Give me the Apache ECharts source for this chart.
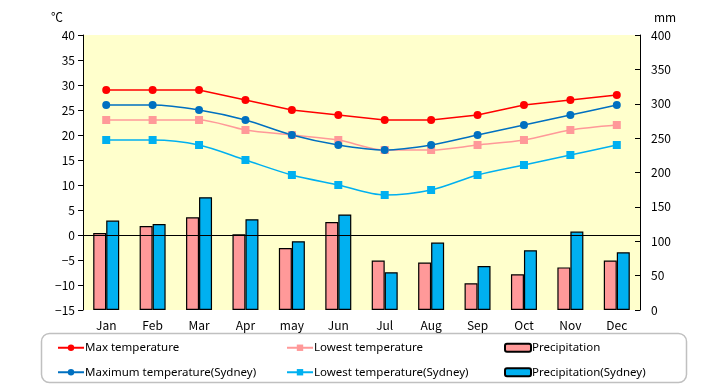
<!DOCTYPE html>
<html><head><meta charset="utf-8">
<script src="https://cdn.jsdelivr.net/npm/echarts@6/dist/echarts.min.js"></script>
<style>html,body{margin:0;padding:0;background:#fff}#c{width:720px;height:385px}</style>
</head><body><div id="c"></div>
<script>
const months = ['Jan','Feb','Mar','Apr','may','Jun','Jul','Aug','Sep','Oct','Nov','Dec'];
const maxTemp = [29,29,29,27,25,24,23,23,24,26,27,28];
const lowTemp = [23,23,23,21,20,19,17,17,18,19,21,22];
const maxTempSyd = [26,26,25,23,20,18,17,18,20,22,24,26];
const lowTempSyd = [19,19,18,15,12,10,8,9,12,14,16,18];
const precip = [112,122,135,110,90,128,72,69,39,52,62,72];
const precipSyd = [130,125,164,132,100,139,55,98,64,87,114,84];
const FONT = '"Noto Sans CJK JP","Noto Sans",sans-serif';
const LFONT = '"Noto Sans","Noto Sans CJK JP",sans-serif';
const chart = echarts.init(document.getElementById('c'));
const lineS = (name, data, color, symbol, size, smooth) => ({
  name, type:'line', data, yAxisIndex:0, smooth, z:5,
  symbol, symbolSize:size, color,
  lineStyle:{color, width:1.5}, itemStyle:{color}
});
const legendCol = (left, data) => ({
  left, top:337, orient:'vertical', itemGap:13, itemWidth:26, itemHeight:8,
  textStyle:{color:'#000', fontSize:11.5, fontFamily:LFONT, padding:[0,0,0,-4]}, data
});
chart.setOption({
  animation:false,
  textStyle:{fontFamily:FONT},
  grid:{left:83, right:80, top:35, bottom:75, show:true, backgroundColor:'#ffffcc', borderWidth:0},
  xAxis:{type:'category', data:months, boundaryGap:true,
    axisLine:{show:false}, axisTick:{show:false},
    axisLabel:{color:'#000', fontSize:12, margin:9, fontFamily:FONT}},
  yAxis:[
    {type:'value', min:-15, max:40, interval:5, name:'℃', nameGap:12,
     nameTextStyle:{color:'#000', fontSize:12, align:'right', padding:[0,20,0,0]},
     axisLine:{show:true, lineStyle:{color:'#000'}},
     axisTick:{show:true, inside:false, length:5, lineStyle:{color:'#000'}},
     splitLine:{show:false},
     axisLabel:{color:'#000', fontSize:12, margin:8, formatter:v=>String(v).replace('-','−')}},
    {type:'value', min:0, max:400, interval:50, name:'mm', nameGap:12, position:'right',
     nameTextStyle:{color:'#000', fontSize:12, align:'left', padding:[0,0,0,14]},
     axisLine:{show:true, lineStyle:{color:'#000'}},
     axisTick:{show:true, inside:true, length:5, lineStyle:{color:'#000'}},
     splitLine:{show:false},
     axisLabel:{color:'#000', fontSize:12, margin:11}}
  ],
  legend:[
    legendCol(52, ['Max temperature','Maximum temperature(Sydney)']),
    legendCol(281, ['Lowest temperature','Lowest temperature(Sydney)']),
    legendCol(499, ['Precipitation','Precipitation(Sydney)'])
  ],
  graphic:[{type:'rect', shape:{x:41.5, y:333.5, width:645, height:49, r:8},
    style:{fill:'none', stroke:'#c0c0c0', lineWidth:1.5}, z:-1}],
  series:[
    {name:'Precipitation', type:'bar', yAxisIndex:1, data:precip, barWidth:13, barGap:'0%',
     color:'#ff9999', itemStyle:{color:'#ff9999', borderColor:'#000', borderWidth:1.2}, z:2},
    {name:'Precipitation(Sydney)', type:'bar', yAxisIndex:1, data:precipSyd, barWidth:13, barGap:'0%',
     color:'#00b0f0', itemStyle:{color:'#00b0f0', borderColor:'#000', borderWidth:1.2}, z:2},
    Object.assign(lineS('Max temperature', maxTemp, '#ff0000', 'circle', 8, false),
      {markLine:{silent:true, symbol:'none', label:{show:false}, animation:false,
        lineStyle:{color:'#000', type:'solid', width:1.2}, data:[{yAxis:0}]}}),
    lineS('Lowest temperature', lowTemp, '#ff9999', 'rect', 8, 0.3),
    lineS('Maximum temperature(Sydney)', maxTempSyd, '#0070c0', 'circle', 8, 0.3),
    lineS('Lowest temperature(Sydney)', lowTempSyd, '#00b0f0', 'rect', 8, 0.3)
  ]
});
</script></body></html>
